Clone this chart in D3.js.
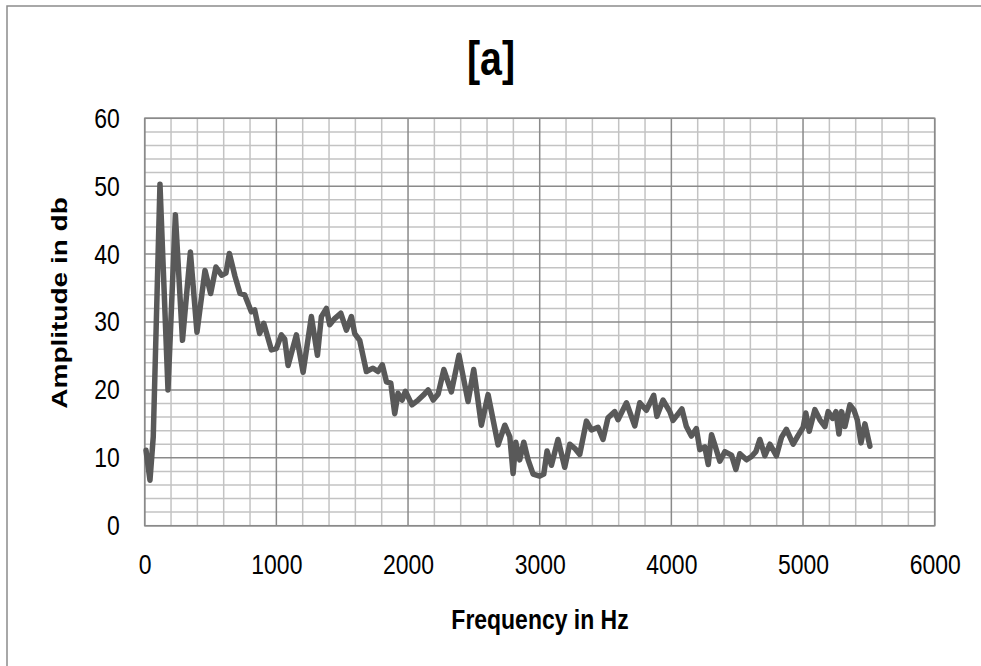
<!DOCTYPE html>
<html>
<head>
<meta charset="utf-8">
<script src="https://cdn.jsdelivr.net/npm/d3@7"></script>
<style>
  html, body { margin: 0; padding: 0; background: #fff; }
  svg { display: block; font-family: "Liberation Sans", Arial, sans-serif; }
</style>
</head>
<body>
<svg id="chart" width="981" height="666"></svg>
<script>
// Spectrum samples: frequency (Hz) and amplitude (dB)
const freqHz = [10, 40, 65, 116, 177, 233, 287, 347, 397, 458, 501, 541, 584, 617, 643, 686, 724, 759, 810, 835, 873, 904, 962, 1000, 1038, 1063, 1089, 1152, 1203, 1266, 1312, 1342, 1380, 1405, 1443, 1489, 1532, 1570, 1595, 1633, 1684, 1734, 1772, 1805, 1836, 1869, 1899, 1924, 1955, 1980, 2030, 2077, 2115, 2153, 2191, 2229, 2272, 2329, 2387, 2456, 2499, 2557, 2608, 2684, 2735, 2773, 2798, 2818, 2848, 2879, 2912, 2950, 3000, 3031, 3056, 3089, 3139, 3190, 3228, 3266, 3304, 3355, 3393, 3443, 3481, 3519, 3570, 3595, 3659, 3722, 3760, 3810, 3866, 3890, 3937, 3988, 4013, 4080, 4114, 4152, 4190, 4216, 4254, 4280, 4305, 4330, 4368, 4406, 4457, 4490, 4520, 4571, 4609, 4642, 4672, 4710, 4748, 4798, 4836, 4874, 4925, 4963, 5001, 5021, 5047, 5090, 5128, 5166, 5191, 5225, 5250, 5273, 5293, 5318, 5356, 5387, 5412, 5440, 5470, 5508];
const amplitudeDb = [11.1, 6.7, 13.1, 50.3, 20.0, 45.8, 27.3, 40.3, 28.5, 37.6, 34.2, 38.1, 36.9, 37.2, 40.1, 36.7, 34.2, 34.0, 31.5, 31.8, 28.3, 29.8, 25.9, 26.1, 28.1, 27.5, 23.6, 28.1, 22.6, 30.8, 25.1, 30.8, 32.0, 29.6, 30.5, 31.3, 28.8, 30.8, 28.3, 27.3, 22.7, 23.2, 22.7, 23.7, 21.2, 21.0, 16.5, 19.5, 18.5, 19.8, 17.8, 18.5, 19.2, 20.0, 18.5, 19.4, 23.0, 19.7, 25.1, 18.3, 23.0, 14.8, 19.3, 11.9, 14.8, 13.1, 7.7, 12.3, 9.7, 12.3, 9.7, 7.6, 7.3, 7.6, 11.0, 8.9, 12.7, 8.6, 12.0, 11.4, 10.5, 15.4, 14.1, 14.5, 12.7, 15.9, 16.8, 15.6, 18.1, 14.7, 18.1, 17.0, 19.2, 16.1, 18.5, 16.8, 15.5, 17.2, 14.6, 13.2, 14.3, 11.2, 11.6, 9.0, 13.4, 11.9, 9.5, 10.9, 10.4, 8.3, 10.6, 9.7, 10.2, 10.9, 12.7, 10.3, 12.0, 10.3, 13.0, 14.2, 12.0, 13.3, 14.5, 16.6, 13.9, 17.1, 15.6, 14.6, 16.8, 15.8, 16.8, 13.5, 16.8, 14.6, 17.8, 17.0, 15.6, 12.2, 15.0, 11.7];

const xTicks = [0, 1000, 2000, 3000, 4000, 5000, 6000];
const yTicks = [0, 10, 20, 30, 40, 50, 60];
const xMinorStep = 200;
const yMinorStep = 2;

const titleText = "[a]";
const xTitle = "Frequency in Hz";
const yTitle = "Amplitude in db";

// Text is drawn condensed horizontally
const SQX = 0.82;

const svg = d3.select("#chart");

// Outer chart frame
svg.append("rect")
  .attr("x", 7).attr("y", 6).attr("width", 1000).attr("height", 700)
  .attr("fill", "#fff").attr("stroke", "#8c8c8c").attr("stroke-width", 1.5);

const plot = { left: 144.7, right: 934.7, top: 118.3, bottom: 525.7 };

const x = d3.scaleLinear().domain([0, 6000]).range([plot.left, plot.right]);
const y = d3.scaleLinear().domain([0, 60]).range([plot.bottom, plot.top]);

const grid = svg.append("g");

// Minor gridlines
const xMinor = d3.range(0, 6000 + 1, xMinorStep).filter(v => v % 1000 !== 0);
const yMinor = d3.range(0, 60 + 1, yMinorStep).filter(v => v % 10 !== 0);

grid.selectAll(".vminor").data(xMinor).join("line")
  .attr("x1", d => x(d)).attr("x2", d => x(d))
  .attr("y1", plot.top).attr("y2", plot.bottom)
  .attr("stroke", "#c3c3c3").attr("stroke-width", 1.5);

grid.selectAll(".hminor").data(yMinor).join("line")
  .attr("x1", plot.left).attr("x2", plot.right)
  .attr("y1", d => y(d)).attr("y2", d => y(d))
  .attr("stroke", "#c3c3c3").attr("stroke-width", 1.5);

// Major gridlines
grid.selectAll(".vmajor").data(xTicks).join("line")
  .attr("x1", d => x(d)).attr("x2", d => x(d))
  .attr("y1", plot.top).attr("y2", plot.bottom)
  .attr("stroke", "#8a8a8a").attr("stroke-width", 1.5);

grid.selectAll(".hmajor").data(yTicks).join("line")
  .attr("x1", plot.left).attr("x2", plot.right)
  .attr("y1", d => y(d)).attr("y2", d => y(d))
  .attr("stroke", "#8a8a8a").attr("stroke-width", 1.5);

// Plot border
svg.append("rect")
  .attr("x", plot.left).attr("y", plot.top)
  .attr("width", plot.right - plot.left).attr("height", plot.bottom - plot.top)
  .attr("fill", "none").attr("stroke", "#8a8a8a").attr("stroke-width", 1.5);

// Axes (labels only, lines drawn by the grid)
const xAxis = d3.axisBottom(x).tickValues(xTicks).tickSize(0).tickPadding(28).tickFormat(d3.format("d"));
const yAxis = d3.axisLeft(y).tickValues(yTicks).tickSize(0).tickPadding(25).tickFormat(d3.format("d"));

const gx = svg.append("g").attr("transform", `translate(0,${plot.bottom})`).call(xAxis);
const gy = svg.append("g").attr("transform", `translate(${plot.left},0)`).call(yAxis);
[gx, gy].forEach(g => {
  g.select(".domain").remove();
  g.selectAll("text")
    .attr("fill", "#000")
    .style("font-family", '"Liberation Sans", Arial, sans-serif')
    .style("font-size", "28px")
    .each(function () {
      const t = d3.select(this);
      const tx = +t.attr("x") || 0;
      t.attr("x", 0).attr("transform", `translate(${tx},0) scale(${SQX},1)`);
    });
});

// Spectrum line
const pts = freqHz.map((f, i) => [f, amplitudeDb[i]]);
const line = d3.line().x(d => x(d[0])).y(d => y(d[1]));
svg.append("path")
  .datum(pts)
  .attr("d", line)
  .attr("fill", "none")
  .attr("stroke", "#595959")
  .attr("stroke-width", 5.5)
  .attr("stroke-linejoin", "round")
  .attr("stroke-linecap", "round");

// Titles
svg.append("text")
  .attr("transform", `translate(491,75) scale(${SQX},1)`)
  .attr("text-anchor", "middle")
  .style("font-size", "48px").style("font-weight", "bold")
  .text(titleText);

svg.append("text")
  .attr("transform", `translate(540,629) scale(${SQX},1)`)
  .attr("text-anchor", "middle")
  .style("font-size", "28px").style("font-weight", "bold")
  .text(xTitle);

svg.append("text")
  .attr("transform", `translate(67,303) scale(${SQX},1) rotate(-90)`)
  .attr("text-anchor", "middle")
  .style("font-size", "28px").style("font-weight", "bold")
  .text(yTitle);
</script>
</body>
</html>
